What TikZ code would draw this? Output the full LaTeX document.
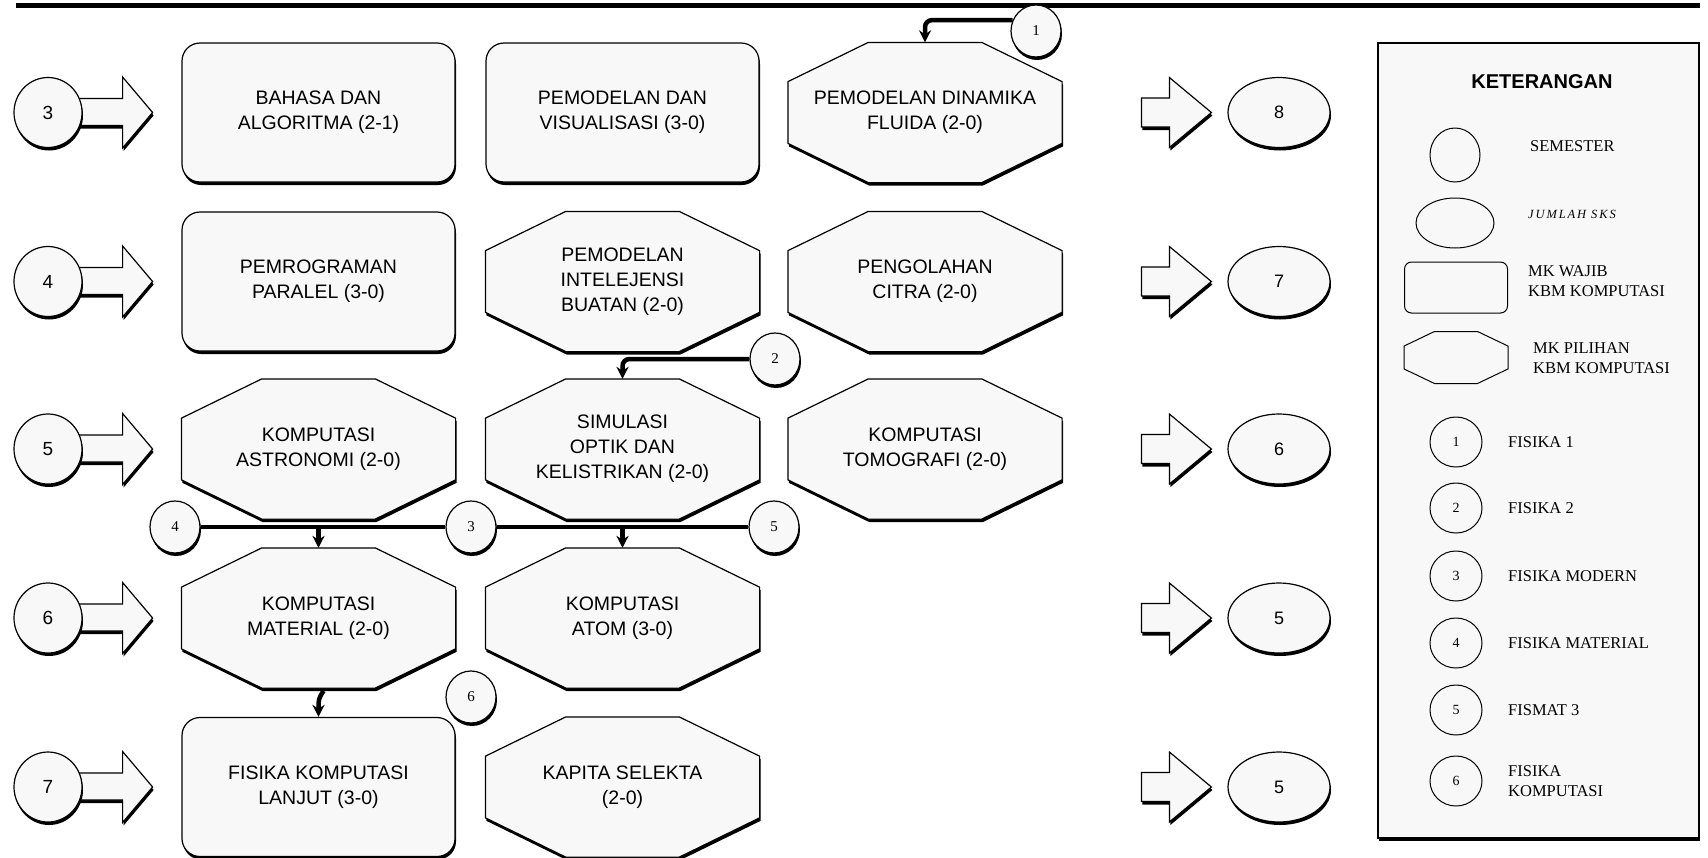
\documentclass[tikz,border=0pt]{standalone}
\usepackage{fontspec}
\setmainfont{Liberation Serif}
\setsansfont{Liberation Sans}
\newfontfamily\spacedserif[LetterSpace=15]{Liberation Serif}
\usetikzlibrary{shapes.geometric,shadows,arrows.meta,calc}

% octagon whose corners are cut in proportion to the node's box
\makeatletter
\pgfdeclareshape{octagonbox}{
  \inheritsavedanchors[from=rectangle]
  \inheritanchorborder[from=rectangle]
  \inheritanchor[from=rectangle]{center}
  \inheritanchor[from=rectangle]{north}
  \inheritanchor[from=rectangle]{south}
  \inheritanchor[from=rectangle]{east}
  \inheritanchor[from=rectangle]{west}
  \inheritanchor[from=rectangle]{north east}
  \inheritanchor[from=rectangle]{north west}
  \inheritanchor[from=rectangle]{south east}
  \inheritanchor[from=rectangle]{south west}
  \inheritanchor[from=rectangle]{text}
  \inheritanchor[from=rectangle]{mid}
  \inheritanchor[from=rectangle]{base}
  \backgroundpath{%
    \southwest \edef\oct@xa{\the\pgf@x}\edef\oct@ya{\the\pgf@y}%
    \northeast \edef\oct@xb{\the\pgf@x}\edef\oct@yb{\the\pgf@y}%
    \pgf@x=\oct@xb\advance\pgf@x by -\oct@xa\pgf@x=0.293\pgf@x
    \pgf@y=\oct@yb\advance\pgf@y by -\oct@ya\pgf@y=0.28\pgf@y
    \edef\oct@cx{\the\pgf@x}\edef\oct@cy{\the\pgf@y}%
    \pgf@x=\oct@xa\advance\pgf@x by \oct@cx\edef\oct@xi{\the\pgf@x}%
    \pgf@x=\oct@xb\advance\pgf@x by -\oct@cx\edef\oct@xj{\the\pgf@x}%
    \pgf@y=\oct@ya\advance\pgf@y by \oct@cy\edef\oct@yi{\the\pgf@y}%
    \pgf@y=\oct@yb\advance\pgf@y by -\oct@cy\edef\oct@yj{\the\pgf@y}%
    \pgfpathmoveto{\pgfqpoint{\oct@xi}{\oct@yb}}%
    \pgfpathlineto{\pgfqpoint{\oct@xj}{\oct@yb}}%
    \pgfpathlineto{\pgfqpoint{\oct@xb}{\oct@yj}}%
    \pgfpathlineto{\pgfqpoint{\oct@xb}{\oct@yi}}%
    \pgfpathlineto{\pgfqpoint{\oct@xj}{\oct@ya}}%
    \pgfpathlineto{\pgfqpoint{\oct@xi}{\oct@ya}}%
    \pgfpathlineto{\pgfqpoint{\oct@xa}{\oct@yi}}%
    \pgfpathlineto{\pgfqpoint{\oct@xa}{\oct@yj}}%
    \pgfpathclose
  }
}
\makeatother

\definecolor{paper}{RGB}{248,248,248}
\pgfdeclarelayer{back}
\pgfsetlayers{back,main}

\begin{document}
\begin{tikzpicture}[x=1pt,y=-1pt,
  shd/.style={drop shadow={shadow xshift=1pt,shadow yshift=-3pt,fill=black,opacity=1}},
  course/.style={draw=black,line width=1.2pt,fill=paper,shd,minimum width=273pt,
    minimum height=139pt,inner sep=0pt,align=center,
    font=\sffamily\fontsize{19.5}{25}\selectfont},
  wajib/.style={course,rounded corners=18pt},
  pilihan/.style={course,shape=octagonbox},
  sem/.style={draw,line width=1.2pt,fill=paper,shd,ellipse,minimum width=68pt,
    minimum height=70pt,inner sep=0pt,font=\sffamily\fontsize{19}{22}\selectfont},
  sks/.style={draw,line width=1.2pt,fill=paper,shd,ellipse,minimum width=102pt,
    minimum height=70pt,inner sep=0pt,font=\sffamily\fontsize{18}{22}\selectfont},
  pre/.style={draw,line width=1.2pt,fill=paper,shd,ellipse,minimum width=50pt,
    minimum height=52pt,inner sep=0pt,font=\rmfamily\fontsize{15}{18}\selectfont},
  blk/.style={draw,line width=1.2pt,fill=paper,shd,line join=miter},
  link/.style={line width=4.5pt},
  conn/.style={line width=4.5pt,rounded corners=7pt,-{Stealth[length=12pt,width=12pt]}},
  legendbox/.style={draw,line width=1.2pt,fill=paper,shd,minimum width=321pt,
    minimum height=795pt,inner sep=0pt},
  lgshape/.style={draw,line width=1pt,inner sep=0pt},
  lgtext/.style={anchor=west,inner sep=0pt,align=left,
    font=\rmfamily\fontsize{16.5}{20.5}\selectfont},
  lgnum/.style={lgshape,ellipse,minimum width=52pt,minimum height=50pt,
    font=\rmfamily\fontsize{14}{17}\selectfont}
]
\useasboundingbox (0,0) rectangle (1708,857);

% heading rule
\draw[line width=5.5pt] (16,5.5) -- (1700,5.5);

% semester markers (left) and credit totals (right)
\foreach \n/\y in {3/112.5,4/281.5,5/449,6/618,7/787}
  \node[sem] (s\n) at (48,\y) {\n};
\node[sks] (t8) at (1279,112.5) {8};
\node[sks] (t7) at (1279,281.5) {7};
\node[sks] (t6) at (1279,449) {6};
\node[sks] (t5a) at (1279,618) {5};
\node[sks] (t5b) at (1279,787) {5};

% block arrows
\begin{pgfonlayer}{back}
\foreach \n in {3,4,5,6,7}
  \draw[blk,shift={(s\n.east)}] (-5,-14) -- (40,-14) -- (40,-35.5) -- (70,0)
    -- (40,35.5) -- (40,13) -- (-5,13) -- cycle;
\foreach \n in {t8,t7,t6,t5a,t5b}
  \draw[blk,shift={(\n.west)}] (-86,-14.5) -- (-58,-14.5) -- (-58,-35) -- (-16,0)
    -- (-58,35) -- (-58,14.5) -- (-86,14.5) -- cycle;
\end{pgfonlayer}

% courses
\node[wajib]   (a1) at (318.5,112.5) {BAHASA DAN\\ALGORITMA (2-1)};
\node[wajib]   (b1) at (622.5,112.5) {PEMODELAN DAN\\VISUALISASI (3-0)};
\node[pilihan] (c1) at (925,112.5)   {PEMODELAN DINAMIKA\\FLUIDA (2-0)};
\node[wajib]   (a2) at (318.5,281.5) {PEMROGRAMAN\\PARALEL (3-0)};
\node[pilihan] (b2) at (622.5,281.5) {PEMODELAN\\INTELEJENSI\\BUATAN (2-0)};
\node[pilihan] (c2) at (925,281.5)   {PENGOLAHAN\\CITRA (2-0)};
\node[pilihan] (a3) at (318.5,449)   {KOMPUTASI\\ASTRONOMI (2-0)};
\node[pilihan] (b3) at (622.5,449)   {SIMULASI\\OPTIK DAN\\KELISTRIKAN (2-0)};
\node[pilihan] (c3) at (925,449)     {KOMPUTASI\\TOMOGRAFI (2-0)};
\node[pilihan] (a4) at (318.5,618)   {KOMPUTASI\\MATERIAL (2-0)};
\node[pilihan] (b4) at (622.5,618)   {KOMPUTASI\\ATOM (3-0)};
\node[wajib]   (a5) at (318.5,787)   {FISIKA KOMPUTASI\\LANJUT (3-0)};
\node[pilihan] (b5) at (622.5,787)   {KAPITA SELEKTA\\(2-0)};

% prerequisite markers
\node[pre] (k1) at (1036,31)  {1};
\node[pre] (k2) at (775,359)  {2};
\node[pre] (k4) at (175,527)  {4};
\node[pre] (k3) at (471,527)  {3};
\node[pre] (k5) at (774,527)  {5};
\node[pre] (k6) at (471,697)  {6};

% prerequisite connectors
\draw[conn] (k1.155) -| (c1.north);
\draw[conn] (k2.west) -| (b3.north);
\draw[link] (k4.east) -- (k3.west);
\draw[link] (k3.east) -- (k5.west);
\draw[conn] (k4.east -| a4.north) -- (a4.north);
\draw[conn] (k3.east -| b4.north) -- (b4.north);
\draw[conn,rounded corners=0pt] ([xshift=5pt,yshift=26pt]a5.north)
  .. controls ([yshift=18pt]a5.north) .. (a5.north);

% legend
\node[legendbox] (leg) at (1538.5,440.5) {};
\node[font=\sffamily\bfseries\fontsize{20}{24}\selectfont,inner sep=0pt] (ttl) at (1542,82) {KETERANGAN};
\node[lgshape,ellipse,minimum width=50pt,minimum height=54pt] (l0) at (1455,155) {};
\node[lgtext] (l0t) at (1530,146) {SEMESTER};
\node[lgshape,ellipse,minimum width=78pt,minimum height=50pt] (l1) at (1455,223) {};
\node[lgtext,font=\spacedserif\itshape\fontsize{12.5}{15}\selectfont] (l1t) at (1528,214) {JUMLAH SKS};
\node[lgshape,rounded corners=7pt,minimum width=103pt,minimum height=51pt] (l2) at (1456,287.5) {};
\node[lgtext] (l2t) at (1528,281) {MK WAJIB\\KBM KOMPUTASI};
\node[lgshape,shape=octagonbox,minimum width=103pt,minimum height=51pt] (l3) at (1456,357.5) {};
\node[lgtext] (l3t) at (1533,358) {MK PILIHAN\\KBM KOMPUTASI};
\foreach \i/\y/\t in {1/442/FISIKA 1,2/508/FISIKA 2,3/576/FISIKA MODERN,4/643/FISIKA MATERIAL,5/710/FISMAT 3}{
  \node[lgnum] (m\i) at (1456,\y) {\i};
  \node[lgtext] (m\i t) at (1508,\y) {\t};
}
\node[lgnum] (m6) at (1456,781) {6};
\node[lgtext] (m6t) at (1508,781) {FISIKA\\KOMPUTASI};
\end{tikzpicture}
\end{document}
